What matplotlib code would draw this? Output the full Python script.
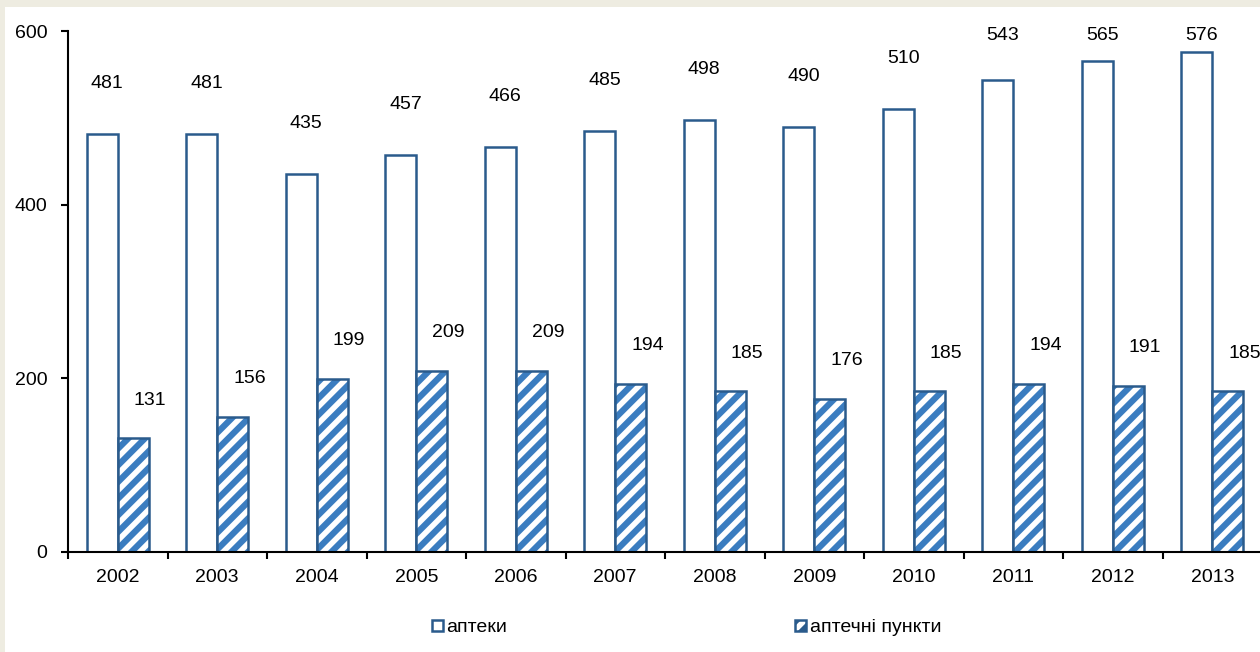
import numpy as np
import matplotlib
matplotlib.use("Agg")
import matplotlib.pyplot as plt
from matplotlib.patches import Rectangle, Patch

# Data
years = ['2002', '2003', '2004', '2005', '2006', '2007',
         '2008', '2009', '2010', '2011', '2012', '2013']
pharmacies = [481, 481, 435, 457, 466, 485, 498, 490, 510, 543, 565, 576]
points = [131, 156, 199, 209, 209, 194, 185, 176, 185, 194, 191, 185]
series_names = ['аптеки', 'аптечні пункти']

plt.rcParams['font.family'] = ['Liberation Sans', 'DejaVu Sans']
plt.rcParams['hatch.linewidth'] = 4.5

edge = '#2a5b8c'
stripe = '#3b7dc0'

fig = plt.figure(figsize=(12.6, 6.52), dpi=100)
fig.patch.set_facecolor('#eeece1')
# white panel inside the beige frame
fig.patches.append(Rectangle((5 / 1260, 0), 1 - 5 / 1260, 1 - 7 / 652,
                             transform=fig.transFigure, facecolor='white',
                             edgecolor='none', zorder=-10))

ax = fig.add_axes([68 / 1260, 100 / 652, 1194 / 1260, 521 / 652])
ax.set_facecolor('none')

x = np.arange(len(years))
w = 0.31
ax.bar(x - w / 2, pharmacies, w, facecolor='white', edgecolor=edge,
       linewidth=1.8)
# hatch in light blue, outline in dark blue
ax.bar(x + w / 2, points, w, facecolor='white', edgecolor=stripe,
       linewidth=0, hatch='//')
ax.bar(x + w / 2, points, w, facecolor='none', edgecolor=edge,
       linewidth=1.8)

# value labels
for xi, v in zip(x, pharmacies):
    ax.text(xi - w / 2 + 0.05, min(v + 58, 595), str(v), ha='center',
            va='center', fontsize=14, clip_on=False)
for xi, v in zip(x, points):
    ax.text(xi + w / 2 + 0.17, v + 44, str(v), ha='center',
            va='center', fontsize=14)

ax.set_xlim(-0.5, len(years) - 0.5)
ax.set_ylim(0, 600)
ax.set_yticks([0, 200, 400, 600])
ax.set_xticks(x)
ax.set_xticklabels(years)
ax.set_xticks(np.arange(-0.5, len(years), 1.0), minor=True)
ax.tick_params(axis='x', which='major', length=0, pad=12, labelsize=14)
ax.tick_params(axis='x', which='minor', length=5, width=1.5, direction='out')
ax.tick_params(axis='y', length=5, width=1.5, direction='out', pad=10,
               labelsize=14)

for s in ['top', 'right']:
    ax.spines[s].set_visible(False)
for s in ['left', 'bottom']:
    ax.spines[s].set_linewidth(1.5)
    ax.spines[s].set_color('black')

handles = [Patch(facecolor='white', edgecolor=edge, linewidth=1.8),
           Patch(facecolor='white', edgecolor=edge, linewidth=1.8, hatch='//')]
fig.legend(handles, series_names, loc='center',
           bbox_to_anchor=(0.545, 24 / 652), ncol=2,
           frameon=False, fontsize=14, handlelength=0.55, handleheight=0.55,
           handletextpad=0.2, columnspacing=14.8)

fig.savefig('out.png', dpi=100, facecolor=fig.get_facecolor())
